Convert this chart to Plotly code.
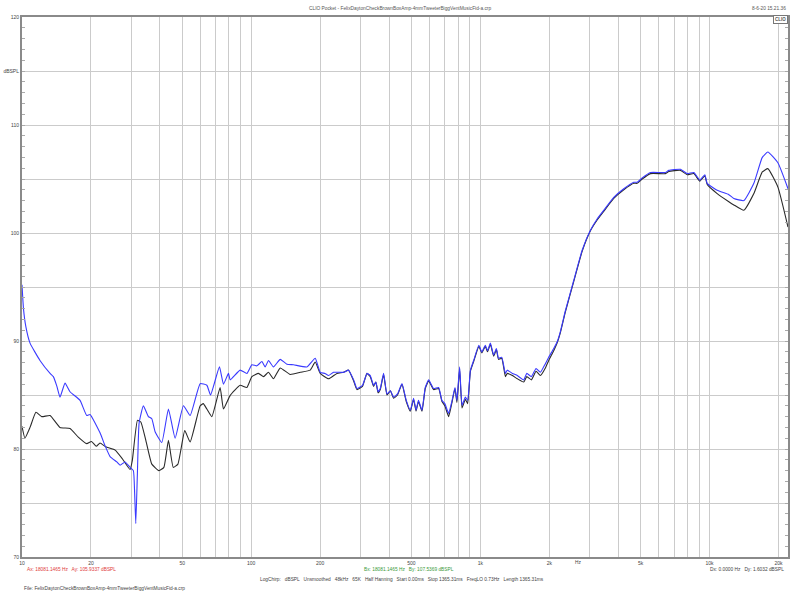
import numpy as np
import plotly.graph_objects as go

# ---- data (frequency in Hz, level in dBSPL) ----
blue_freq = [10, 10.15, 10.4, 10.84, 11.98, 13.26, 13.7, 14.2, 14.65, 15.41, 16.2, 17.92, 19.16, 19.81,
             21.9, 23.04, 24.23, 25.92, 26.79, 28.17, 29.62, 30.62, 31.0, 31.37, 31.88, 32.43, 33.86,
             35.61, 36.85, 38.09, 40.74, 43.55, 46.57, 50.63, 54.16, 59.9, 64.06, 66.5, 72.7, 75.7,
             79.6, 81.0, 89.5, 95.8, 100.7, 105.9, 111.4, 115.1, 119.0, 125.1, 133.9, 143.2, 153.0,
             175.1, 190.3, 200.1, 210, 217.6, 228.8, 253, 266.1, 280, 289.4, 306, 320.1, 330.8, 342,
             350, 358, 365.9, 378.2, 391.4, 405, 418.2, 435, 455, 475, 494.8, 511.3, 524, 537, 556.4,
             575, 595, 625.4, 657.6, 680, 700, 727, 750, 775, 790, 812, 832, 860, 880, 905, 935, 985,
             1015, 1051, 1075, 1106, 1143, 1175, 1200, 1240, 1286, 1310, 1380, 1450, 1546, 1595, 1670,
             1750, 1828, 1922, 1988, 2090, 2162, 2230, 2350, 2555, 2781, 3022, 3233, 3454, 3820, 4225,
             4670, 4834, 5083, 5526, 6425, 6643, 7470, 7990, 8540, 9071, 9539, 9772, 10800, 12140,
             12770, 14120, 15610, 16990, 17970, 19880, 22000]
blue_db = [95.2, 93.0, 91.3, 89.8, 88.2, 87.0, 86.7, 85.8, 84.8, 86.1, 85.3, 84.5, 83.1, 83.2,
           81.5, 80.3, 79.3, 78.8, 78.5, 78.8, 78.3, 78.0, 76.0, 73.1, 77.7, 82.4, 84.0,
           83.0, 82.8, 81.6, 80.6, 83.7, 81.0, 84.0, 83.1, 86.05, 85.9, 85.0, 87.6, 86.0,
           87.0, 86.4, 87.3, 87.0, 87.8, 87.7, 88.1, 87.6, 88.2, 87.6, 88.3, 87.85, 87.8,
           87.6, 88.4, 87.1, 87.0, 86.8, 87.1, 87.1, 87.3, 86.4, 85.6, 85.9, 87.0, 86.8, 85.9,
           86.2, 85.3, 85.6, 87.0, 85.1, 85.4, 84.8, 85.1, 86.05, 84.5, 83.6, 84.7, 83.6, 84.5, 83.6,
           85.7, 86.4, 85.6, 85.7, 84.5, 84.2, 83.3, 84.35, 85.7, 84.5, 87.6, 84.05, 84.8, 84.5, 87.3, 88.2, 89.6,
           88.98, 89.6, 89.1, 89.8, 88.7, 89.3, 88.4, 88.5, 87.0, 87.3, 87.0, 86.8, 86.4, 87.0, 86.7,
           87.45, 87.1, 87.9, 88.5, 89.3, 89.9, 90.8, 92.8, 95.6, 98.4, 100.25, 101.3, 102.1, 103.3, 104.1,
           104.7, 104.7, 105.1, 105.6, 105.6, 105.8, 105.9, 105.5, 105.6, 104.9, 105.4, 104.6, 103.95, 103.55,
           103.2, 103.0, 104.6, 107.0, 107.5, 106.5, 104.1]

black_freq = [10, 10.3, 10.84, 11.5, 12.2, 13.26, 14.65, 16.2, 17.6, 19.16, 20.1, 21.1, 21.9, 23.2,
              25.5, 27.4, 29.62, 30.3, 31.9, 33.0, 34.7, 36.85, 39.6, 41.6, 43.55, 45.7, 47.9, 51.3,
              54.16, 59.9, 61.8, 64.06, 67.35, 73.2, 75.7, 81.0, 89.5, 95.8, 100.7, 107.6, 113.2, 119.0,
              125.1, 133.9, 148, 163.7, 180.9, 190.3, 200.1, 217.6, 236.7, 253, 266.1, 280, 289.4, 306,
              320.1, 330.8, 342, 350, 358, 365.9, 378.2, 391.4, 405, 418.2, 435, 455, 475, 494.8, 511.3,
              524, 537, 556.4, 575, 595, 625.4, 657.6, 680, 700, 727, 750, 775, 790, 812, 832, 860, 880,
              905, 935, 985, 1015, 1051, 1075, 1106, 1143, 1175, 1200, 1240, 1286, 1310, 1380, 1450, 1546,
              1595, 1670, 1750, 1828, 1922, 1988, 2090, 2162, 2230, 2350, 2555, 2781, 3022, 3233, 3454,
              3820, 4225, 4670, 4834, 5083, 5526, 6425, 6643, 7470, 7990, 8540, 9071, 9539, 9772, 10800,
              12140, 12770, 14120, 15610, 16990, 17970, 19880, 22000]
black_db = [82.1, 81.0, 82.0, 83.4, 83.0, 83.1, 82.0, 81.9, 81.1, 80.5, 80.7, 80.25, 80.56, 80.2,
            79.9, 79.1, 78.1, 78.95, 82.65, 82.5, 80.8, 78.6, 78.0, 78.3, 80.8, 78.3, 78.6, 81.7,
            80.65, 84.0, 84.2, 83.7, 83.0, 85.7, 83.7, 84.97, 85.9, 85.7, 86.7, 87.0, 86.7, 87.1,
            86.5, 87.5, 86.9, 87.1, 87.3, 88.05, 87.0, 86.5, 87.0, 87.1, 87.3, 86.3, 85.5, 85.8,
            87.0, 86.7, 85.8, 86.2, 85.2, 85.5, 86.9, 85.0, 85.4, 84.7, 85.0, 86.0, 84.4, 83.5, 84.6,
            83.5, 84.4, 83.5, 85.6, 86.3, 85.5, 85.6, 84.4, 84.0, 83.0, 84.2, 85.6, 84.3, 87.4, 83.8, 84.6, 84.2,
            87.2, 88.1, 89.5, 88.9, 89.5, 89.0, 89.7, 88.6, 89.2, 88.3, 88.4, 86.7, 87.0, 86.8, 86.5, 86.2,
            86.7, 86.4, 87.2, 86.8, 87.5, 88.2, 89.1, 89.8, 90.7, 92.7, 95.5, 98.3, 100.2, 101.2, 102.0,
            103.2, 104.0, 104.6, 104.6, 105.0, 105.5, 105.5, 105.7, 105.8, 105.4, 105.5, 104.8, 105.3, 104.5, 103.65,
            102.9, 102.6, 102.1, 103.65, 105.65, 105.96, 104.25, 100.55]

grid_freqs = [10, 20, 30, 40, 50, 60, 70, 80, 90, 100, 200, 300, 400, 500, 600, 700, 800, 900,
              1000, 2000, 3000, 4000, 5000, 6000, 7000, 8000, 9000, 10000, 20000]
x_labels = {10: "10", 20: "20", 50: "50", 100: "100", 200: "200", 500: "500", 1000: "1k",
            2000: "2k", 5000: "5k", 10000: "10k", 20000: "20k"}
y_ticks = [70, 75, 80, 85, 90, 95, 100, 105, 110, 115, 120]
y_labels = ["70", "", "80", "", "90", "", "100", "", "110", "dBSPL", "120"]

title_text = "CLIO Pocket - FelixDaytonCheckBrownBoxAmp-4mmTweeterBiggVentMusicFid-a.crp"
date_text = "8-6-20 15.21.36"
ax_text = "Ax: 18081.1465 Hz   Ay: 105.9337 dBSPL"
bx_text = "Bx: 18081.1465 Hz   By: 107.5369 dBSPL"
dx_text = "Dx: 0.0000 Hz   Dy: 1.6032 dBSPL"
info_text = ("LogChirp:   dBSPL   Unsmoothed   48kHz   65K   Half Hanning   Start 0.00ms   "
             "Stop 1365.31ms   FreqLO 0.73Hz   Length 1365.31ms")
file_text = "File: FelixDaytonCheckBrownBoxAmp-4mmTweeterBiggVentMusicFid-a.crp"

FONT = "Arial, Liberation Sans, sans-serif"
FS = 4.8

fig = go.Figure()
fig.add_trace(go.Scatter(x=black_freq, y=black_db, mode="lines",
                         line=dict(color="#2a2a2a", width=1.1, shape="spline", smoothing=0.4),
                         showlegend=False, hoverinfo="skip"))
fig.add_trace(go.Scatter(x=blue_freq, y=blue_db, mode="lines",
                         line=dict(color="#3a3aff", width=1.1, shape="spline", smoothing=0.4),
                         showlegend=False, hoverinfo="skip"))

fig.update_xaxes(type="log", range=[1, np.log10(22000)], automargin=False,
                 tickvals=grid_freqs, ticktext=[x_labels.get(f, "") for f in grid_freqs],
                 showgrid=True, gridcolor="#cbcbcb", gridwidth=1,
                 showline=True, linecolor="#8a8a8a", linewidth=2, mirror=True,
                 ticks="", ticklabelstandoff=0,
                 tickfont=dict(family=FONT, size=5, color="#444"),
                 zeroline=False)
fig.update_yaxes(range=[70, 120], tickvals=y_ticks, ticktext=y_labels, automargin=False,
                 showgrid=True, gridcolor="#cbcbcb", gridwidth=1,
                 showline=True, linecolor="#8a8a8a", linewidth=2, mirror="ticks",
                 ticks="inside", ticklen=3, tickcolor="#aaa",
                 minor=dict(dtick=1, ticks="inside", ticklen=3, tickcolor="#aaa", showgrid=False),
                 tickfont=dict(family=FONT, size=5, color="#444"),
                 zeroline=False)

ph = 557 - 16.7
def py(ypix):
    return (557 - ypix) / ph
def px(xpix):
    return (xpix - 22) / 766

annos = [
    dict(text=title_text, x=px(400), y=py(8), xanchor="center"),
    dict(text=date_text, x=px(788), y=py(8), xanchor="right"),
    dict(text="Hz", x=px(578), y=py(562.5), xanchor="center", color="#444"),
    dict(text=ax_text, x=px(25), y=py(570), xanchor="left", color="#e03a3a"),
    dict(text=bx_text, x=px(362), y=py(570), xanchor="left", color="#3a9a3a"),
    dict(text=dx_text, x=px(786), y=py(570), xanchor="right", color="#444"),
    dict(text=info_text, x=px(258), y=py(580), xanchor="left", color="#444"),
    dict(text=file_text, x=px(22), y=py(589), xanchor="left", color="#444"),
]
for a in annos:
    fig.add_annotation(text=a["text"], x=a["x"], y=a["y"], xref="paper", yref="paper",
                       xanchor=a["xanchor"], yanchor="middle", showarrow=False,
                       font=dict(family=FONT, size=FS, color=a.get("color", "#555")))

fig.add_annotation(text="<b>CLIO</b>", x=px(788), y=py(19), xref="paper", yref="paper",
                   xanchor="right", yanchor="middle", showarrow=False,
                   font=dict(family=FONT, size=4.5, color="#555"),
                   bordercolor="#777", borderwidth=1, borderpad=1, bgcolor="white")

fig.update_layout(width=800, height=600, autosize=False,
                  margin=dict(l=22, r=12, t=17, b=43),
                  paper_bgcolor="white", plot_bgcolor="white")

fig.write_html("out.html", config={"displayModeBar": False},
               post_script="document.body.style.margin='0';")
